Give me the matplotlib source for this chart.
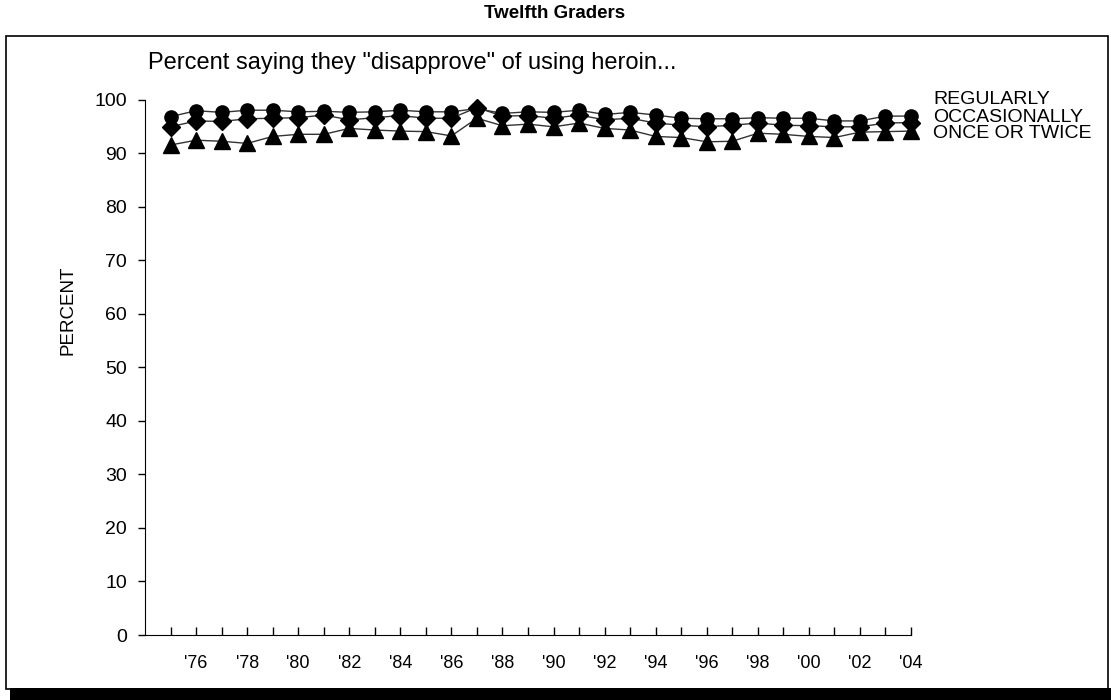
import numpy as np
import matplotlib.pyplot as plt
from matplotlib.patches import Rectangle

plt.rcParams['font.family'] = ['Liberation Sans', 'DejaVu Sans']

years = np.arange(1975, 2005)

# percent disapproving, by frequency of use
regularly = [96.8, 97.9, 97.6, 98.0, 98.0, 97.7, 97.8, 97.6, 97.7, 98.0,
             97.7, 97.7, 98.3, 97.4, 97.7, 97.6, 98.0, 97.2, 97.6, 97.1,
             96.5, 96.4, 96.4, 96.6, 96.5, 96.5, 96.0, 96.0, 96.9, 96.9]
occasionally = [94.9, 96.0, 95.9, 96.4, 96.5, 96.6, 97.1, 96.2, 96.6, 97.0,
                96.5, 96.5, 98.5, 96.9, 97.0, 96.5, 97.1, 96.2, 96.5, 95.6,
                95.2, 94.9, 95.2, 95.6, 95.2, 95.1, 94.9, 94.9, 95.6, 95.7]
once_twice = [91.5, 92.4, 92.2, 91.8, 93.1, 93.5, 93.5, 94.6, 94.3, 94.1,
              94.0, 93.2, 96.5, 95.1, 95.4, 94.9, 95.6, 94.6, 94.3, 93.1,
              92.9, 92.1, 92.2, 93.7, 93.5, 93.1, 92.9, 93.9, 94.0, 94.1]

series_names = ['REGULARLY', 'OCCASIONALLY', 'ONCE OR TWICE']
label_years = np.arange(1976, 2005, 2)
label_text = ["'" + str(y)[2:] for y in label_years]

fig = plt.figure(figsize=(11.11, 7.0), dpi=100)

# outer frame with a heavy bottom edge
fig.patches.append(Rectangle((6/1111, 1-689/700), 1102/1111, 653/700,
                             transform=fig.transFigure, fill=False,
                             edgecolor='black', linewidth=1.2))
fig.patches.append(Rectangle((10/1111, 0), 1101/1111, 12/700,
                             transform=fig.transFigure, facecolor='black',
                             edgecolor='none'))

ax = fig.add_axes([145/1111, 1-635/700, (911-145)/1111, (635-99.5)/700])

ax.plot(years, regularly, color='#333333', lw=1, marker='o', ms=9.5,
        mfc='black', mec='black', clip_on=False)
ax.plot(years, occasionally, color='#333333', lw=1, marker='D', ms=9,
        mfc='black', mec='black', clip_on=False)
ax.plot(years, once_twice, color='#333333', lw=1, marker='^', ms=11.5,
        mfc='black', mec='black', clip_on=False)

ax.set_xlim(1974, 2004)
ax.set_ylim(0, 100)
ax.spines['top'].set_visible(False)
ax.spines['right'].set_visible(False)

ax.set_xticks(years)
ax.set_xticklabels([])
ax.tick_params(axis='x', direction='in', length=6, width=1)
ax.set_yticks(np.arange(0, 101, 10))
ax.tick_params(axis='y', direction='out', length=5, width=1, pad=8,
               labelsize=14)
for yr, txt in zip(label_years, label_text):
    ax.text(yr, -5.3, txt, ha='center', va='center', fontsize=13)

fig.text(555/1111, 1-13/700, 'Twelfth Graders', ha='center', va='center',
         fontsize=13.5, fontweight='bold')
fig.text(148/1111, 1-63/700, 'Percent saying they "disapprove" of using heroin...',
         ha='left', va='center', fontsize=17)
fig.text(68/1111, 1-310/700, 'PERCENT', rotation=90, ha='center',
         va='center', fontsize=13.5)

for i, name in enumerate(series_names):
    fig.text(933/1111, 1-(100+17*i)/700, name, ha='left', va='center',
             fontsize=14)

fig.savefig('out.png', dpi=100)
